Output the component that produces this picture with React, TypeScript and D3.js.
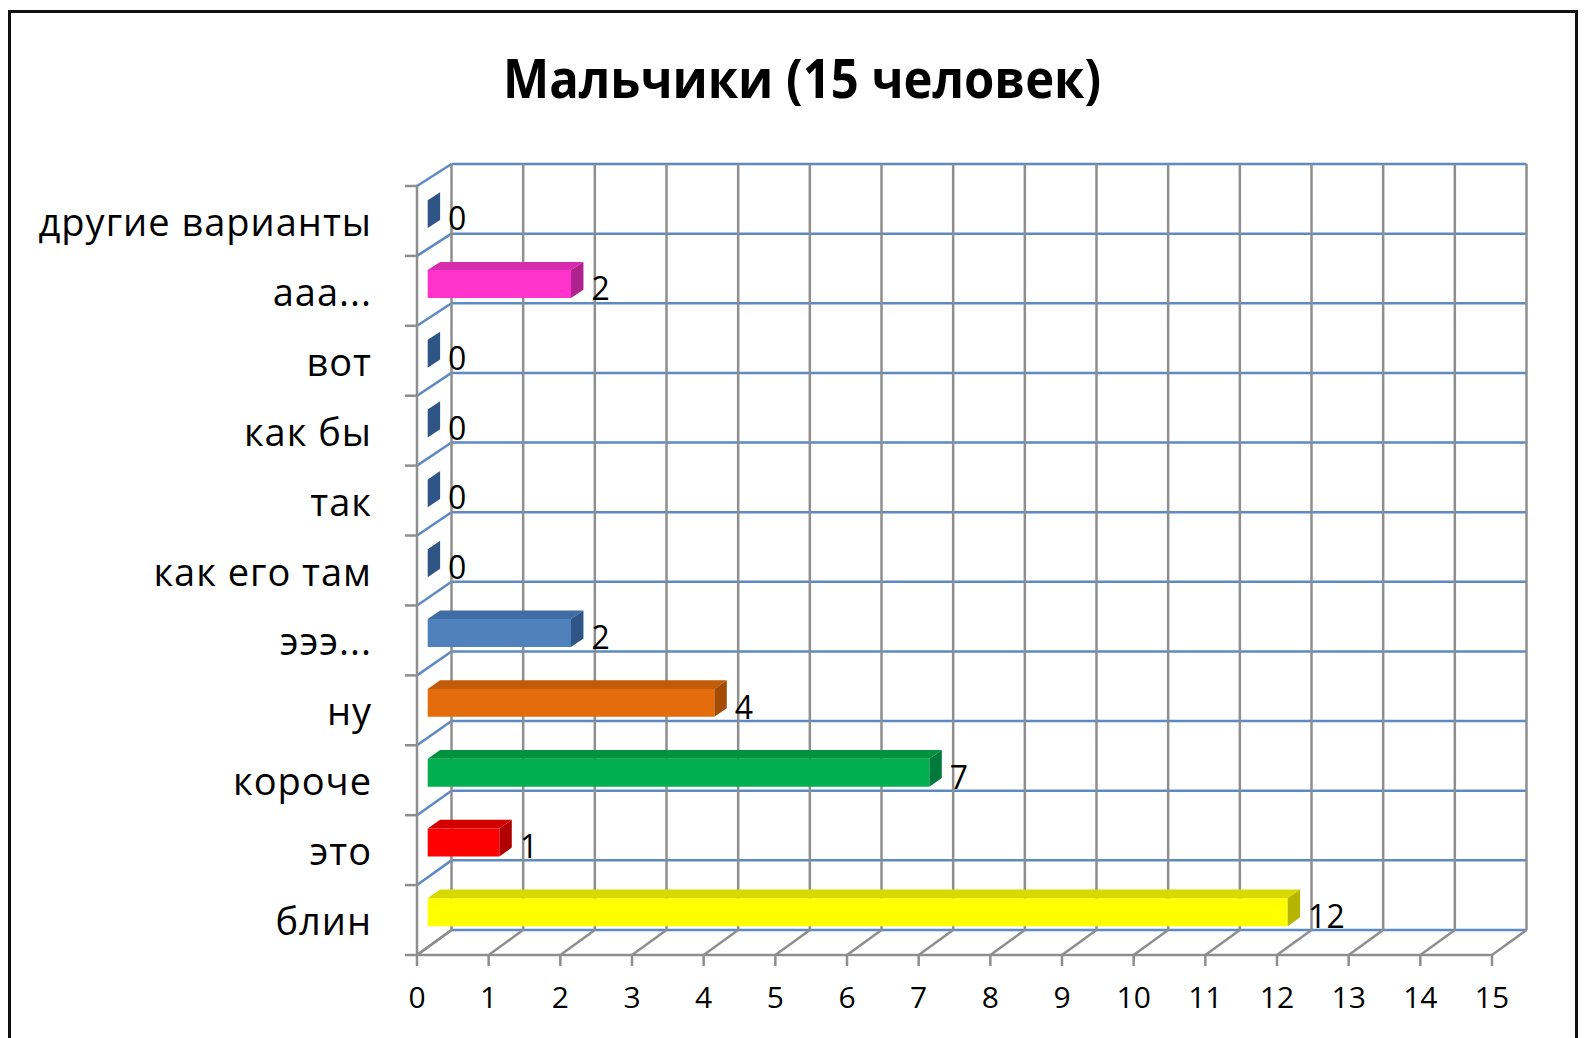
import React, { useRef, useEffect } from 'react';
import * as d3 from 'd3';

// data, bottom to top as in the chart
const categories = ['блин', 'это', 'короче', 'ну', 'эээ...', 'как его там', 'так', 'как бы', 'вот', 'ааа...', 'другие варианты'];
const values = [12, 1, 7, 4, 2, 0, 0, 0, 0, 2, 0];
const frontColors = ['#ffff00', '#ff0000', '#00b050', '#e46c0a', '#4f81bd', '#4f81bd', '#4f81bd', '#4f81bd', '#4f81bd', '#ff33cc', '#4f81bd'];
const topColors = ['#d9d900', '#d40000', '#00923f', '#c25b08', '#3f6ca3', '#3f6ca3', '#3f6ca3', '#3f6ca3', '#3f6ca3', '#d62cad', '#3f6ca3'];
const sideColors = ['#b5b500', '#b00000', '#00793a', '#a34c06', '#2e5586', '#2e5586', '#2e5586', '#2e5586', '#2e5586', '#b0228d', '#2e5586'];
const xTicks = [0, 1, 2, 3, 4, 5, 6, 7, 8, 9, 10, 11, 12, 13, 14, 15];
const title = 'Мальчики (15 человек)';

const WIDTH = 1585;
const HEIGHT = 1038;
const FONT = '"Open Sans", "Noto Sans", sans-serif';
const BLUE = '#5d89c4';
const GRAY = '#8e8e8e';

export default function App() {
  const svgRef = useRef<SVGSVGElement>(null);

  useEffect(() => {
    if (!svgRef.current) return;
    const svg = d3.select(svgRef.current);
    svg.selectAll('*').remove();

    // front plane and back wall of the 3d box
    const xFront = d3.scaleLinear().domain([0, 15]).range([417, 1492]);
    const DX = 34.5;
    const yFront = d3.scaleBand<string>().domain(categories).range([955, 186]);
    const yBack = d3.scaleBand<string>().domain(categories).range([930, 164]);
    const bwF = yFront.bandwidth();
    const bwB = yBack.bandwidth();

    // point at value v, fraction f inside the band of category c, depth t (0 front, 1 back)
    const P = (v: number, c: string, f: number, t: number): [number, number] => {
      const yf = (yFront(c) as number) + f * bwF;
      const yb = (yBack(c) as number) + f * bwB;
      return [xFront(v) + t * DX, yf + (yb - yf) * t];
    };

    const xMax = xFront.domain()[1];
    const bounds = d3.range(categories.length + 1); // boundaries bottom -> top
    const yFB = (i: number) => 955 - i * bwF;
    const yBB = (i: number) => 930 - i * bwB;

    // outer frame
    svg.append('rect')
      .attr('x', 9.5).attr('y', 11.5)
      .attr('width', 1567).attr('height', 1040)
      .attr('fill', 'white')
      .attr('stroke', '#111')
      .attr('stroke-width', 3);

    // title
    svg.append('text')
      .attr('x', 802).attr('y', 98)
      .attr('text-anchor', 'middle')
      .attr('font-family', FONT)
      .attr('font-weight', 700)
      .attr('font-size', 54)
      .attr('textLength', 598)
      .attr('lengthAdjust', 'spacingAndGlyphs')
      .attr('fill', '#000')
      .text(title);

    const grid = svg.append('g').attr('fill', 'none').attr('stroke-width', 2.5);

    // back wall: horizontal category lines
    bounds.forEach(i => {
      grid.append('line')
        .attr('x1', xFront(0) + DX).attr('x2', xFront(xMax) + DX)
        .attr('y1', yBB(i)).attr('y2', yBB(i))
        .attr('stroke', BLUE);
    });

    // side wall diagonals
    bounds.forEach(i => {
      grid.append('line')
        .attr('x1', xFront(0)).attr('y1', yFB(i))
        .attr('x2', xFront(0) + DX).attr('y2', yBB(i))
        .attr('stroke', i === 0 ? GRAY : BLUE);
    });

    // back wall verticals and floor diagonals
    xTicks.forEach(v => {
      grid.append('line')
        .attr('x1', xFront(v) + DX).attr('x2', xFront(v) + DX)
        .attr('y1', yBB(categories.length)).attr('y2', yBB(0))
        .attr('stroke', GRAY);
      grid.append('line')
        .attr('x1', xFront(v)).attr('y1', yFB(0))
        .attr('x2', xFront(v) + DX).attr('y2', yBB(0))
        .attr('stroke', GRAY);
    });

    // front axes
    grid.append('line')
      .attr('x1', xFront(0)).attr('x2', xFront(0))
      .attr('y1', yFB(categories.length)).attr('y2', yFB(0))
      .attr('stroke', GRAY);
    grid.append('line')
      .attr('x1', xFront(0)).attr('x2', xFront(xMax))
      .attr('y1', yFB(0)).attr('y2', yFB(0))
      .attr('stroke', GRAY);
    bounds.forEach(i => {
      grid.append('line')
        .attr('x1', xFront(0) - 12).attr('x2', xFront(0))
        .attr('y1', yFB(i)).attr('y2', yFB(i))
        .attr('stroke', GRAY);
    });
    xTicks.forEach(v => {
      grid.append('line')
        .attr('x1', xFront(v)).attr('x2', xFront(v))
        .attr('y1', yFB(0)).attr('y2', yFB(0) + 11)
        .attr('stroke', GRAY);
    });

    // bars
    const f0 = 0.3, f1 = 0.7, t1 = 0.31, t2 = 0.67;
    const poly = (pts: [number, number][]) => 'M' + pts.map(p => p.join(',')).join('L') + 'Z';
    const bars = svg.append('g');
    categories.forEach((c, i) => {
      const v = values[i];
      const g = bars.append('g');
      if (v > 0) {
        g.append('path')
          .attr('d', poly([P(0, c, f0, t1), P(v, c, f0, t1), P(v, c, f1, t1), P(0, c, f1, t1)]))
          .attr('fill', frontColors[i]);
        g.append('path')
          .attr('d', poly([P(0, c, f0, t1), P(v, c, f0, t1), P(v, c, f0, t2), P(0, c, f0, t2)]))
          .attr('fill', topColors[i]);
      }
      g.append('path')
        .attr('d', poly([P(v, c, f0, t1), P(v, c, f0, t2), P(v, c, f1, t2), P(v, c, f1, t1)]))
        .attr('fill', sideColors[i]);

      // value label
      const [lx] = P(v, c, f1, t2);
      const [, ly] = P(v, c, f1, t1);
      svg.append('text')
        .attr('x', lx + 8).attr('y', ly + 2)
        .attr('font-family', FONT)
        .attr('font-size', 32)
        .attr('fill', '#000')
        .text(String(v));
    });

    // category labels
    svg.append('g')
      .selectAll('text')
      .data(categories)
      .join('text')
      .attr('x', 372)
      .attr('y', d => (yFront(d) as number) + bwF / 2 + 15)
      .attr('text-anchor', 'end')
      .attr('font-family', FONT)
      .attr('font-size', 38)
      .attr('letter-spacing', 1)
      .attr('fill', '#000')
      .text(d => d);

    // x tick labels
    svg.append('g')
      .selectAll('text')
      .data(xTicks)
      .join('text')
      .attr('x', d => xFront(d))
      .attr('y', 1008)
      .attr('text-anchor', 'middle')
      .attr('font-family', FONT)
      .attr('font-size', 30)
      .attr('fill', '#000')
      .text(d => String(d));
  }, []);

  return (
    <div style={{ position: 'absolute', left: 0, top: 0 }}>
      <svg ref={svgRef} width={WIDTH} height={HEIGHT} style={{ display: 'block' }} />
    </div>
  );
}
